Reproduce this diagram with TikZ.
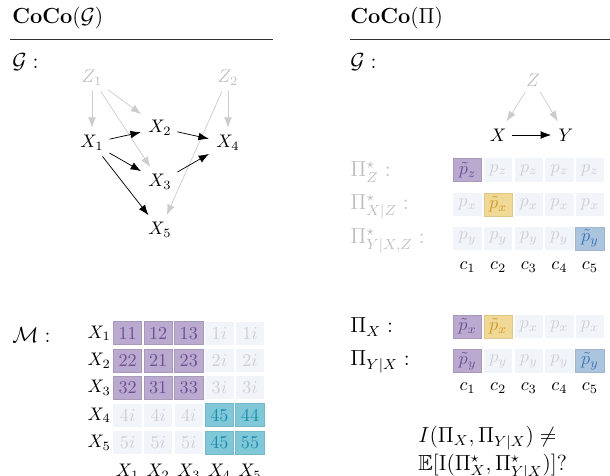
\documentclass[tikz,border=0pt]{standalone}
\usepackage{amsmath,amssymb}
\usetikzlibrary{arrows.meta,positioning}
\definecolor{purplefill}{RGB}{187,170,207}
\definecolor{purpletext}{RGB}{112,78,150}
\definecolor{yellowfill}{RGB}{240,216,150}
\definecolor{yellowtext}{RGB}{205,155,40}
\definecolor{bluefill}{RGB}{172,197,222}
\definecolor{bluetext}{RGB}{60,118,178}
\definecolor{tealfill}{RGB}{128,200,216}
\definecolor{tealtext}{RGB}{25,140,172}
\definecolor{palefill}{RGB}{241,244,248}
\definecolor{paletext}{RGB}{205,207,212}

\begin{document}
\begin{tikzpicture}[x=0.55pt,y=-0.55pt,
  title/.style={anchor=west, font=\large, inner sep=0pt},
  lbl/.style={anchor=west, font=\large, inner sep=0pt},
  var/.style={inner sep=3pt},
  hidden/.style={var, text=black!25},
  edge/.style={-{Latex[length=2mm,width=1.5mm]}, black, shorten >=1pt},
  hedge/.style={edge, black!20},
  cell/.style={minimum width=15.6pt, minimum height=12.8pt, inner sep=0pt},
  pur/.style={cell, fill=purplefill, draw=purplefill!90!black, text=purpletext},
  yel/.style={cell, fill=yellowfill, draw=yellowfill!92!black, text=yellowtext},
  blu/.style={cell, fill=bluefill, draw=bluefill!92!black, text=bluetext},
  tea/.style={cell, fill=tealfill, draw=tealfill!92!black, text=tealtext},
  pal/.style={cell, fill=palefill, text=paletext}
]
\useasboundingbox (0,0) rectangle (610,475);

% titles
\node[title] (tl) at (12,18) {\textbf{CoCo}$(\mathcal{G})$};
\node[title] (tr) at (350,18) {\textbf{CoCo}$(\Pi)$};
\coordinate (rl0) at (10,39);
\coordinate (rl1) at (273,39);
\coordinate (rr0) at (350,39);
\coordinate (rr1) at (612,39);
\draw[black!80] (rl0) -- (rl1);
\draw[black!80] (rr0) -- (rr1);
\node[lbl] (gl) at (12,62) {$\mathcal{G}:$};
\node[lbl] (gr) at (350,62) {$\mathcal{G}:$};

% left graph
\node[hidden] (z1) at (92,78) {$Z_1$};
\node[hidden] (z2) at (228,78) {$Z_2$};
\node[var] (x1) at (92,143) {$X_1$};
\node[var] (x2) at (160,128) {$X_2$};
\node[var] (x4) at (228,143) {$X_4$};
\node[var] (x3) at (160,182) {$X_3$};
\node[var] (x5) at (160,230) {$X_5$};
\draw[hedge] (z1) -- (x1);
\draw[hedge] (z1) -- (x2);
\draw[hedge] (z1) -- (x3);
\draw[hedge] (z2) -- (x4);
\draw[hedge] (z2) -- (x5);
\draw[edge] (x1) -- (x2);
\draw[edge] (x2) -- (x4);
\draw[edge] (x1) -- (x3);
\draw[edge] (x3) -- (x4);
\draw[edge] (x1) -- (x5);

% right graph
\node[hidden] (z) at (533,80) {$Z$};
\node[var] (x) at (498,135) {$X$};
\node[var] (y) at (566,135) {$Y$};
\draw[hedge] (z) -- (x);
\draw[hedge] (z) -- (y);
\draw[edge] (x) -- (y);

% interventional rows
\node[lbl, text=black!25] (pz) at (350,172) {$\Pi^\star_{Z}:$};
\node[lbl, text=black!25] (pxz) at (350,207) {$\Pi^\star_{X|Z}:$};
\node[lbl, text=black!25] (pyxz) at (350,241) {$\Pi^\star_{Y|X,Z}:$};
\foreach \c/\s/\t in {1/pur/\tilde p_z,2/pal/p_z,3/pal/p_z,4/pal/p_z,5/pal/p_z}
  \node[\s] (sz\c) at ({437+30.6*\c},170) {$\t$};
\foreach \c/\s/\t in {1/pal/p_x,2/yel/\tilde p_x,3/pal/p_x,4/pal/p_x,5/pal/p_x}
  \node[\s] (sx\c) at ({437+30.6*\c},204.5) {$\t$};
\foreach \c/\s/\t in {1/pal/p_y,2/pal/p_y,3/pal/p_y,4/pal/p_y,5/blu/\tilde p_y}
  \node[\s] (sy\c) at ({437+30.6*\c},238.5) {$\t$};
\foreach \c in {1,...,5}
  \node (ca\c) at ({437+30.6*\c},267) {$c_\c$};

% observational rows
\node[lbl] (px) at (350,327) {$\Pi_{X}:$};
\node[lbl] (pyx) at (350,362) {$\Pi_{Y|X}:$};
\foreach \c/\s/\t in {1/pur/\tilde p_x,2/yel/\tilde p_x,3/pal/p_x,4/pal/p_x,5/pal/p_x}
  \node[\s] (ox\c) at ({437+30.6*\c},326.5) {$\t$};
\foreach \c/\s/\t in {1/pur/\tilde p_y,2/pal/p_y,3/pal/p_y,4/pal/p_y,5/blu/\tilde p_y}
  \node[\s] (oy\c) at ({437+30.6*\c},361) {$\t$};
\foreach \c in {1,...,5}
  \node (cb\c) at ({437+30.6*\c},388) {$c_\c$};

\node[anchor=west, font=\large, inner sep=0pt] (q1) at (418,438)
  {$I(\Pi_X,\Pi_{Y|X})\neq$};
\node[anchor=west, font=\large, inner sep=0pt] (q2) at (418,467)
  {$\mathbb{E}[\mathrm{I}(\Pi^\star_X,\Pi^\star_{Y|X})]?$};

% matrix
\node[lbl] (mm) at (12,335) {$\mathcal{M}:$};
\foreach \r in {1,...,5}
  \node[anchor=east, inner sep=1pt] (row\r) at (113,{306+27.3*\r}) {$X_\r$};
\foreach \r/\c/\s/\t in {1/1/pur/11,1/2/pur/12,1/3/pur/13,1/4/pal/1i,1/5/pal/1i,
    2/1/pur/22,2/2/pur/21,2/3/pur/23,2/4/pal/2i,2/5/pal/2i,
    3/1/pur/32,3/2/pur/31,3/3/pur/33,3/4/pal/3i,3/5/pal/3i,
    4/1/pal/4i,4/2/pal/4i,4/3/pal/4i,4/4/tea/45,4/5/tea/44,
    5/1/pal/5i,5/2/pal/5i,5/3/pal/5i,5/4/tea/45,5/5/tea/55}
  \node[\s, minimum height=12.6pt] (m\r\c) at ({97+30.6*\c},{306+27.3*\r}) {$\t$};
\foreach \c in {1,...,5}
  \node (col\c) at ({97+30.6*\c},472) {$X_\c$};
\end{tikzpicture}
\end{document}
